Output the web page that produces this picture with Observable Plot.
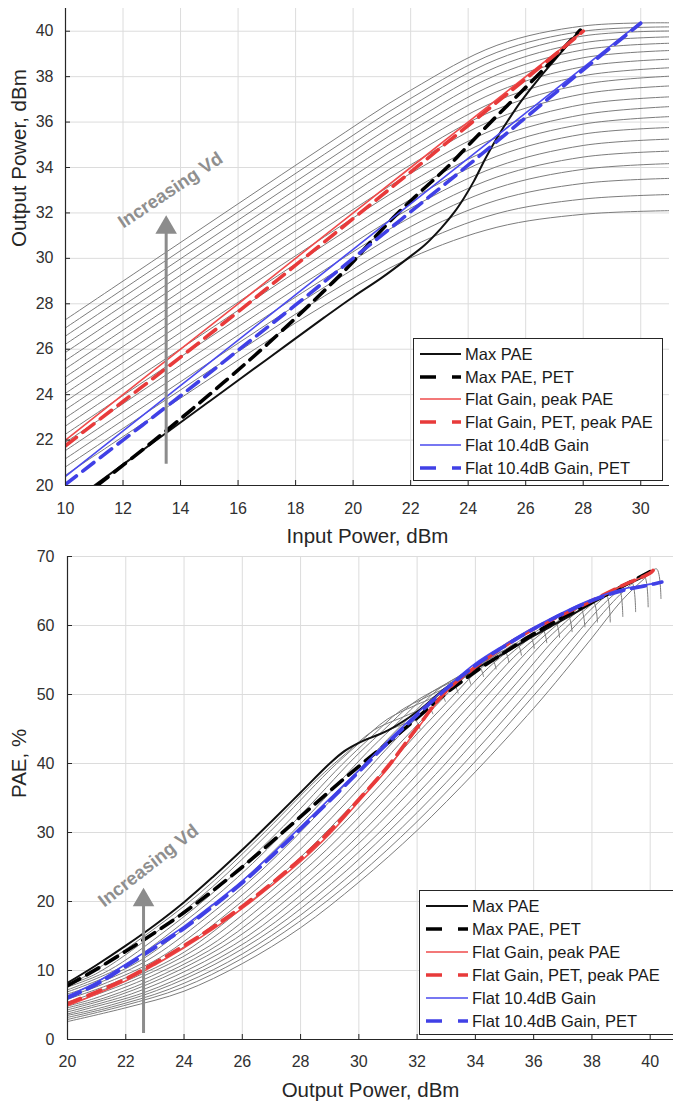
<!DOCTYPE html>
<html><head><meta charset="utf-8">
<script src="https://cdn.jsdelivr.net/npm/d3@7"></script>
<script src="https://cdn.jsdelivr.net/npm/@observablehq/plot@0.6"></script>
<style>
html,body{margin:0;padding:0;background:#fff;}
#wrap{position:relative;width:673px;height:1101px;overflow:hidden;font-family:"Liberation Sans",Arial,Helvetica,sans-serif;}
#wrap > svg{display:block;overflow:visible;}
.legend{position:absolute;background:#fff;border:1px solid #262626;box-sizing:border-box;}
.legend .row{position:absolute;left:0;height:22px;display:flex;align-items:center;font-size:16.5px;color:#1a1a1a;white-space:nowrap;}
.legend .row svg{display:block;}
</style></head><body><div id="wrap"></div>
<script>
// ---------------- DATA ----------------
// Top panel: Output power vs input power
const topXTicks = [10,12,14,16,18,20,22,24,26,28,30];
const topYTicks = [20,22,24,26,28,30,32,34,36,38,40];
const topGrayPin = [10,13,16,19,22,25,28,31];
const topGrayPout = [
  [27.30,29.85,32.40,34.94,37.40,39.38,40.23,40.37],
  [26.94,29.49,32.04,34.58,37.04,39.07,40.00,40.19],
  [26.58,29.13,31.68,34.22,36.69,38.76,39.79,40.01],
  [26.22,28.77,31.32,33.86,36.33,38.43,39.49,39.75],
  [25.86,28.41,30.96,33.50,35.97,38.08,39.18,39.47],
  [25.50,28.05,30.60,33.14,35.60,37.71,38.83,39.15],
  [25.14,27.69,30.24,32.77,35.24,37.34,38.44,38.77],
  [24.78,27.33,29.88,32.41,34.86,36.94,38.04,38.39],
  [24.42,26.97,29.52,32.05,34.50,36.57,37.66,38.02],
  [24.06,26.61,29.16,31.68,34.12,36.16,37.24,37.59],
  [23.70,26.25,28.79,31.32,33.74,35.73,36.78,37.11],
  [23.34,25.89,28.43,30.95,33.36,35.32,36.33,36.68],
  [22.98,25.53,28.07,30.59,32.98,34.92,35.91,36.24],
  [22.62,25.17,27.71,30.22,32.60,34.50,35.47,35.76],
  [22.26,24.81,27.35,29.85,32.21,34.04,34.97,35.25],
  [21.90,24.45,26.99,29.48,31.81,33.58,34.46,34.72],
  [21.54,24.09,26.62,29.11,31.40,33.10,33.92,34.17],
  [21.18,23.72,26.26,28.73,30.96,32.56,33.30,33.52],
  [20.82,23.36,25.89,28.34,30.50,31.97,32.61,32.81],
  [20.46,23.00,25.52,27.94,30.02,31.37,31.94,32.10]
];
const maxPaeTopPin  = [11.0,13,15,17,19,20,21,21.9,22.5,23.04,23.5,23.85,24.2,24.6,25.0,25.4,25.83,26.41,27.1,27.85];
const maxPaeTopPout = [20.0,21.85,23.7,25.55,27.4,28.3,29.15,30.0,30.6,31.3,32.0,32.65,33.4,34.4,35.3,36.1,36.9,37.84,38.87,40.0];
const maxPaePetTopPin  = [11.1,13,15,17,19.13,19.94,20.76,21.54,22.4,23.28,24.1,25.02,25.9,26.76,27.9];
const maxPaePetTopPout = [20.0,21.9,24.0,26.2,28.74,29.77,30.94,31.97,33.0,34.02,35.1,36.3,37.4,38.5,40.05];
const flatGainTopPin  = [10,13,16,19,22,25,28];
const flatGainTopPout = [22.0,25.0,28.0,31.0,34.0,37.0,40.0];
const flatGainPetTopPin  = [10,12,14,16,18,20,22,24,26,28];
const flatGainPetTopPout = [21.75,23.7,25.65,27.65,29.7,31.75,33.8,35.85,37.9,40.0];
const flat104TopPin  = [10,15,20,25,30];
const flat104TopPout = [20.4,25.4,30.4,35.4,40.4];
const flat104PetTopPin  = [10,12,14,16,18,20,22,24,26,28,30];
const flat104PetTopPout = [20.05,22.0,23.95,25.95,27.95,30.0,32.05,34.1,36.2,38.3,40.35];

// Bottom panel: PAE vs output power
const botXTicks = [20,22,24,26,28,30,32,34,36,38,40];
const botYTicks = [0,10,20,30,40,50,60,70];
const botGrayPout = [
  [20,22,24,26,28,29,30,31,31.6,31.95,32.1],
  [20,20.54,22.54,24.54,26.54,28.54,29.54,30.54,31.44,31.94,32.39,32.54],
  [20,20.97,22.97,24.97,26.97,28.97,29.97,30.97,31.87,32.37,32.82,32.97],
  [20,21.41,23.41,25.41,27.41,29.41,30.41,31.41,32.31,32.81,33.26,33.41],
  [20,21.84,23.84,25.84,27.84,29.84,30.84,31.84,32.74,33.24,33.69,33.84],
  [20,22.28,24.28,26.28,28.28,30.28,31.28,32.28,33.18,33.68,34.13,34.28],
  [20,20.71,22.71,24.71,26.71,28.71,30.71,31.71,32.71,33.61,34.11,34.56,34.71],
  [20,21.15,23.15,25.15,27.15,29.15,31.15,32.15,33.15,34.05,34.55,35.0,35.15],
  [20,21.58,23.58,25.58,27.58,29.58,31.58,32.58,33.58,34.48,34.98,35.43,35.58],
  [20,22.02,24.02,26.02,28.02,30.02,32.02,33.02,34.02,34.92,35.42,35.87,36.02],
  [20,20.45,22.45,24.45,26.45,28.45,30.45,32.45,33.45,34.45,35.35,35.85,36.3,36.45],
  [20,20.89,22.89,24.89,26.89,28.89,30.89,32.89,33.89,34.89,35.79,36.29,36.74,36.89],
  [20,21.32,23.32,25.32,27.32,29.32,31.32,33.32,34.32,35.32,36.22,36.72,37.17,37.32],
  [20,21.76,23.76,25.76,27.76,29.76,31.76,33.76,34.76,35.76,36.66,37.16,37.61,37.76],
  [20,22.19,24.19,26.19,28.19,30.19,32.19,34.19,35.19,36.19,37.09,37.59,38.04,38.19],
  [20,20.63,22.63,24.63,26.63,28.63,30.63,32.63,34.63,35.63,36.63,37.53,38.03,38.48,38.63],
  [20,21.06,23.06,25.06,27.06,29.06,31.06,33.06,35.06,36.06,37.06,37.96,38.46,38.91,39.06],
  [20,21.5,23.5,25.5,27.5,29.5,31.5,33.5,35.5,36.5,37.5,38.4,38.9,39.35,39.5],
  [20,21.93,23.93,25.93,27.93,29.93,31.93,33.93,35.93,36.93,37.93,38.83,39.33,39.78,39.93],
  [20,22,24,26,28,30,32,34,36,37,38,39,39.8,40.22,40.37]
];
const botGrayPae = [
  [8.2,13.6,19.9,27.5,35.8,40.0,43.0,44.8,45.8,46.2,45.0],
  [8.07,9.0,14.7,21.2,29.1,37.6,41.4,44.9,46.6,47.5,48.2,47.2],
  [7.9,9.5,15.3,22.1,30.2,38.9,42.8,46.4,48.3,49.2,50.0,49.0],
  [7.6,10.0,15.9,22.8,30.9,39.8,43.8,47.6,49.6,50.6,51.4,50.2],
  [7.2,10.5,16.5,23.5,31.8,40.8,44.8,48.7,50.9,51.9,52.8,51.5],
  [6.9,10.9,17.0,24.1,32.5,41.6,45.7,49.7,52.0,53.1,54.0,52.6],
  [6.6,7.6,11.4,17.5,24.7,33.2,42.3,46.6,50.7,53.1,54.3,55.2,53.7],
  [6.2,7.9,11.8,18.0,25.3,33.8,43.0,47.3,51.5,54.1,55.3,56.3,54.7],
  [5.85,8.2,12.3,18.6,25.9,34.4,43.7,48.1,52.3,55.1,56.4,57.4,55.7],
  [5.4,8.5,12.7,19.1,26.5,35.1,44.4,48.8,53.2,56.1,57.5,58.5,56.7],
  [5.1,5.7,8.9,13.2,19.6,27.0,35.6,45.0,49.5,53.9,57.0,58.4,59.5,57.5],
  [4.85,5.9,9.2,13.6,20.1,27.5,36.2,45.6,50.2,54.7,57.9,59.4,60.5,58.3],
  [4.6,6.1,9.5,14.1,20.6,28.1,36.8,46.2,50.8,55.4,58.7,60.3,61.5,59.1],
  [4.3,6.4,9.9,14.6,21.1,28.6,37.3,46.8,51.5,56.1,59.6,61.3,62.5,59.8],
  [4.0,6.6,10.2,15.0,21.6,29.2,37.9,47.3,52.1,56.9,60.5,62.3,63.5,60.5],
  [3.7,4.4,6.8,10.5,15.5,22.1,29.7,38.4,47.9,52.7,57.6,61.4,63.2,64.5,60.5],
  [3.5,4.5,7.1,10.9,16.0,22.6,30.3,39.0,48.5,53.4,58.3,62.3,64.2,65.5,61.3],
  [3.2,4.7,7.3,11.2,16.5,23.1,30.8,39.5,48.9,53.9,58.9,63.1,65.0,66.4,62.0],
  [2.9,4.9,7.5,11.6,17.0,23.6,31.3,40.0,49.5,54.4,59.6,63.9,65.9,67.3,62.7],
  [2.6,4.6,7.0,11.0,16.2,22.8,30.3,38.8,48.0,53.0,58.2,63.5,66.8,68.2,63.9]
];
const maxPaeBotPout = [20,21,22,23,24,25,26,27,28,29,29.5,30,31,32,33,34,35,36,37,38,39,40,40.1];
const maxPaeBotPae  = [8.2,10.8,13.6,16.6,19.9,23.6,27.5,31.6,35.8,40.0,41.8,43.0,44.8,47.5,51.0,53.7,56.0,58.5,60.8,63.2,65.5,67.6,68.0];
const maxPaePetBotPout = [20,21,22,23,24,25,26,27,28,29,30,31,32,33,34,35,36,37,38,39,40];
const maxPaePetBotPae  = [7.8,10.2,12.8,15.5,18.4,21.6,25.0,28.6,32.3,36.0,39.6,43.0,46.6,50.2,53.3,56.1,58.8,61.2,63.4,65.6,67.8];
const flatGainBotPout = [20,21,22,23,24,25,26,27,28,29,30,31,32,33,34,35,36,37,38,39,40,40.1];
const flatGainBotPae  = [4.9,6.6,8.5,10.8,13.3,16.0,19.0,22.3,25.8,29.8,34.5,39.3,45.0,50.4,54.0,57.0,59.5,61.6,63.6,65.7,67.6,68.0];
const flatGainPetBotPae = [5.2,6.9,8.8,11.1,13.6,16.3,19.3,22.6,26.2,30.2,34.8,39.6,45.2,50.5,54.0,57.0,59.5,61.6,63.6,65.7,67.6,68.0];
const flat104BotPout = [20,21,22,23,24,25,26,27,28,29,30,31,32,33,34,35,36,37,38,39,40,40.4];
const flat104BotPae  = [6.3,8.3,10.9,13.6,16.4,19.6,23.0,26.8,30.8,34.9,39.0,43.3,47.3,51.0,54.5,57.2,59.7,61.9,63.8,65.2,66.0,66.3];
const flat104PetBotPae = [6.0,8.0,10.6,13.3,16.1,19.3,22.7,26.5,30.5,34.6,38.8,43.0,47.0,50.8,54.2,57.0,59.5,61.7,63.6,65.0,65.9,66.3];

// annotations
const topArrow = {x: 13.5, y1: 21.2, y2: 31.9};
const topLabel = {x: 13.65, y: 33.0, text: "Increasing Vd", angle: -33.7};
const botArrow = {x: 22.61, y1: 1.74, y2: 22.0};
const botLabel = {x: 22.78, y: 25.2, text: "Increasing Vd", angle: -38};

const legendLabels = ["Max PAE","Max PAE, PET","Flat Gain, peak PAE","Flat Gain, PET, peak PAE","Flat 10.4dB Gain","Flat 10.4dB Gain, PET"];

// ---------------- STYLES ----------------
const RED = "#e83a3a", RED_L = "#ef4b4b", BLUE = "#4040e6", BLUE_L = "#4a4aee", GRAY = "#7c7c7c";
const styles = [
  {stroke: "#111", strokeWidth: 2},
  {stroke: "#000", strokeWidth: 3.6, strokeDasharray: "14,8"},
  {stroke: RED_L, strokeWidth: 1.6},
  {stroke: RED, strokeWidth: 3.6, strokeDasharray: "14,8"},
  {stroke: BLUE_L, strokeWidth: 1.6},
  {stroke: BLUE, strokeWidth: 3.6, strokeDasharray: "14,8"}
];
const FONT = '"Liberation Sans", Arial, Helvetica, sans-serif';
const pts = (xs, ys) => xs.map((x, i) => ({x, y: ys[i]}));

function grayRows(xsList, ysList) {
  const out = [];
  ysList.forEach((ys, i) => ys.forEach((v, k) => out.push({id: i, x: Array.isArray(xsList[0]) ? xsList[i][k] : xsList[k], y: v})));
  return out;
}

function annotation(arrow, label) {
  return [
    Plot.ruleX([arrow], {x: "x", y1: "y1", y2: "y2", stroke: "#8c8c8c", strokeWidth: 3, dy: 6}),
    Plot.dot([arrow], {x: "x", y: "y2", symbol: "triangle", r: 8, fill: "#8c8c8c", stroke: "none", dy: 12.4}),
    Plot.text([label], {x: "x", y: "y", text: "text", rotate: label.angle, fontSize: 18.5, fontWeight: "bold", fill: "#8f8f8f", fontFamily: FONT})
  ];
}

function colored(series) {
  return series.map((s, i) => Plot.line(s, {x: "x", y: "y", curve: "catmull-rom", clip: true, ...styles[i]}));
}

function frameMarks(xTicks, yTicks, x0, y0, xLabel, yLabel, xPad, yPad, yLabelDx) {
  return {
    grid: [
      Plot.gridX(xTicks, {stroke: "#dcdcdc", strokeOpacity: 1, strokeWidth: 1}),
      Plot.gridY(yTicks, {stroke: "#dcdcdc", strokeOpacity: 1, strokeWidth: 1})
    ],
    axes: [
      Plot.ruleX([x0], {stroke: "#262626", strokeWidth: 1.2}),
      Plot.ruleY([y0], {stroke: "#262626", strokeWidth: 1.2}),
      Plot.axisX(xTicks, {tickSize: -5, tickPadding: xPad, fontSize: 16, label: null, stroke: "#262626", fill: "#303030"}),
      Plot.axisY(yTicks, {tickSize: -5, tickPadding: yPad, fontSize: 16, label: null, stroke: "#262626", fill: "#303030"}),
      Plot.text([xLabel], {frameAnchor: "bottom", dy: 51, fontSize: 20.5, lineAnchor: "middle", fill: "#262626", text: d => d}),
      Plot.text([yLabel], {frameAnchor: "left", dx: yLabelDx, rotate: -90, fontSize: 20.5, lineAnchor: "middle", fill: "#262626", text: d => d})
    ]
  };
}

// ---------------- TOP PLOT ----------------
const fTop = frameMarks(topXTicks, topYTicks, 10, 20, "Input Power, dBm", "Output Power, dBm", 22, 17, -46);
const topPlot = Plot.plot({
  width: 673, height: 550,
  marginTop: 8, marginBottom: 65, marginLeft: 65, marginRight: 4,
  style: {background: "white", fontFamily: FONT, fontSize: "16px", color: "#262626", overflow: "visible"},
  x: {domain: [10, 31]},
  y: {domain: [20, 41]},
  marks: [
    ...fTop.grid,
    Plot.line(grayRows(topGrayPin, topGrayPout), {x: "x", y: "y", z: "id", stroke: GRAY, strokeWidth: 1, curve: "catmull-rom", clip: true}),
    ...colored([
      pts(maxPaeTopPin, maxPaeTopPout),
      pts(maxPaePetTopPin, maxPaePetTopPout),
      pts(flatGainTopPin, flatGainTopPout),
      pts(flatGainPetTopPin, flatGainPetTopPout),
      pts(flat104TopPin, flat104TopPout),
      pts(flat104PetTopPin, flat104PetTopPout)
    ]),
    ...annotation(topArrow, topLabel),
    ...fTop.axes
  ]
});

// ---------------- BOTTOM PLOT ----------------
const fBot = frameMarks(botXTicks, botYTicks, 20, 0, "Output Power, dBm", "PAE, %", 21, 18, -48);
const botPlot = Plot.plot({
  width: 673, height: 551,
  marginTop: 6, marginBottom: 62, marginLeft: 67, marginRight: 0,
  style: {background: "white", fontFamily: FONT, fontSize: "16px", color: "#262626", overflow: "visible"},
  x: {domain: [20, 40.8]},
  y: {domain: [0, 70]},
  marks: [
    ...fBot.grid,
    Plot.line(grayRows(botGrayPout, botGrayPae), {x: "x", y: "y", z: "id", stroke: GRAY, strokeWidth: 1, curve: "catmull-rom", clip: true}),
    ...colored([
      pts(maxPaeBotPout, maxPaeBotPae),
      pts(maxPaePetBotPout, maxPaePetBotPae),
      pts(flatGainBotPout, flatGainBotPae),
      pts(flatGainBotPout, flatGainPetBotPae),
      pts(flat104BotPout, flat104BotPae),
      pts(flat104BotPout, flat104PetBotPae)
    ]),
    ...annotation(botArrow, botLabel),
    ...fBot.axes
  ]
});

const wrap = document.getElementById("wrap");
wrap.appendChild(topPlot);
wrap.appendChild(botPlot);

// ---------------- LEGENDS ----------------
function legend(left, top, width, height, rowTops, sampleX, textX, sampleLen) {
  const box = document.createElement("div");
  box.className = "legend";
  Object.assign(box.style, {left: left + "px", top: top + "px", width: width + "px", height: height + "px"});
  legendLabels.forEach((lab, i) => {
    const st = styles[i];
    const row = document.createElement("div");
    row.className = "row";
    row.style.top = (rowTops[i] - 11) + "px";
    const dash = st.strokeDasharray ? ' stroke-dasharray="16,16"' : "";
    row.innerHTML = `<svg width="${textX}" height="10" style="flex:none"><line x1="${sampleX}" x2="${sampleX + sampleLen}" y1="5" y2="5" stroke="${st.stroke}" stroke-width="${st.strokeWidth}"${dash}/></svg><span>${lab}</span>`;
    box.appendChild(row);
  });
  wrap.appendChild(box);
}
legend(413, 338, 250, 143, [15, 38, 60, 83, 106, 129], 6, 51, 41);
legend(419, 890, 256, 145, [15, 38, 61, 84, 107, 130], 6, 52, 42);
</script></body></html>
